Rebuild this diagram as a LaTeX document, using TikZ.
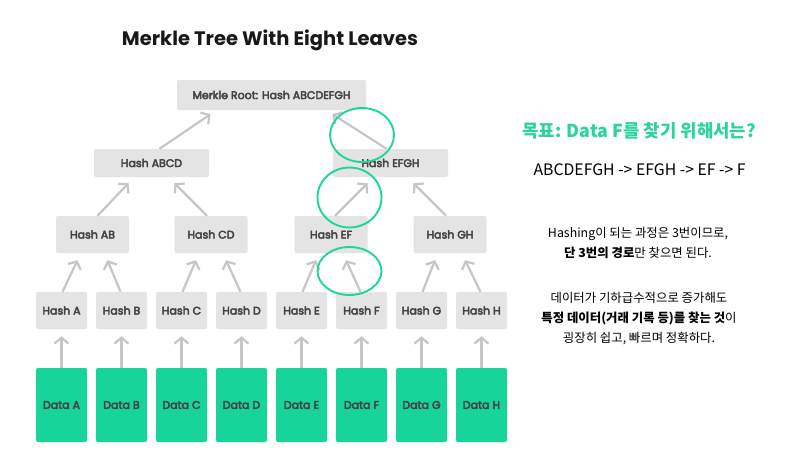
\documentclass[tikz,border=0pt]{standalone}
\usepackage{fontspec}
\setmainfont{Poppins}
\newfontfamily\labelfont{Poppins}[FakeBold=4]
\newfontfamily\krfont{Noto Sans CJK KR}
\usetikzlibrary{arrows.meta}
\definecolor{boxgray}{HTML}{E4E4E4}
\definecolor{linegray}{HTML}{C6C6C6}
\definecolor{labelgray}{HTML}{444444}
\definecolor{datagreen}{HTML}{17D59A}
\definecolor{ringgreen}{HTML}{1ED69C}
\definecolor{headgreen}{HTML}{2BD49C}
\tikzset{
  hbox/.style={fill=boxgray, rounded corners=2pt, text=labelgray, inner sep=0pt,
     font=\labelfont\fontsize{11}{13}\selectfont},
  dbox/.style={hbox, fill=datagreen, text=labelgray},
  arr/.style={draw=linegray, line width=2.2pt, -{Straight Barb[length=6pt,width=14pt]}},
  ring/.style={draw=ringgreen, line width=1.9pt},
  krtext/.style={font=\krfont\fontsize{12.4}{20}\selectfont, align=center, text=black}
}
\begin{document}
\begin{tikzpicture}[x=1pt,y=-1pt]
\useasboundingbox (0,0) rectangle (800,464);
\fill[white] (0,0) rectangle (800,464);
\node[font=\fontsize{19.5}{22}\selectfont\bfseries, text=black!90] (title) at (270,40) {Merkle Tree With Eight Leaves};
% root and levels
\node[hbox, minimum width=189pt, minimum height=30pt] (root) at (271.5,95) {Merkle Root: Hash ABCDEFGH};
\node[hbox, minimum width=115pt, minimum height=28pt] (abcd) at (151.5,163) {Hash ABCD};
\node[hbox, minimum width=115pt, minimum height=28pt] (efgh) at (390.5,163) {Hash EFGH};
\foreach \n/\t/\x in {ab/AB/92.5, cd/CD/211, ef/EF/331, gh/GH/450}{
  \node[hbox, minimum width=73pt, minimum height=37pt] (\n) at (\x,234.5) {Hash \t};
}
\foreach \l [count=\i from 0] in {A,B,C,D,E,F,G,H}{
  \node[hbox, minimum width=51pt, minimum height=37pt] (h\l) at (61.5+60*\i,310.5) {Hash \l};
  \node[dbox, minimum width=51pt, minimum height=74pt] (d\l) at (61.5+60*\i,405) {Data \l};
  \draw[arr] (d\l.north) -- ([yshift=-7pt]h\l.south);
}
% leaf -> level 2
\foreach \a/\b/\p in {A/B/ab, C/D/cd, E/F/ef, G/H/gh}{
  \draw[arr] ([xshift=1pt]h\a.north) -- ([shift={(-15,7)}]\p.south);
  \draw[arr] ([xshift=-1pt]h\b.north) -- ([shift={(15,7)}]\p.south);
}
% level 2 -> level 1
\draw[arr] ([xshift=5pt]ab.north) -- ([shift={(-23,6)}]abcd.south);
\draw[arr] ([xshift=-4pt]cd.north) -- ([shift={(23,6)}]abcd.south);
\draw[arr] ([xshift=4pt]ef.north) -- ([shift={(-23,6)}]efgh.south);
\draw[arr] ([xshift=-4pt]gh.north) -- ([shift={(23,6)}]efgh.south);
% level 1 -> root
\draw[arr] ([xshift=8pt]abcd.north) -- ([shift={(-61,4)}]root.south);
\draw[arr] ([xshift=-4pt]efgh.north) -- ([shift={(61,4)}]root.south);
% rings
\draw[ring] (362,135) ellipse [x radius=32pt, y radius=27pt];
\draw[ring] (349.5,197.5) ellipse [x radius=32pt, y radius=30pt];
\draw[ring] (349.5,271) ellipse [x radius=32pt, y radius=24pt];
% right texts
\node[font=\krfont\fontsize{17.8}{20}\selectfont\bfseries, text=headgreen, anchor=west] (goal) at (519,131) {목표: Data F를 찾기 위해서는?};
\node[font=\krfont\fontsize{15.8}{18}\selectfont, anchor=west] (path) at (530,170) {ABCDEFGH -> EFGH -> EF -> F};
\node[krtext] (t1) at (638,243) {Hashing이 되는 과정은 3번이므로,\\\textbf{단 3번의 경로}만 찾으면 된다.};
\node[krtext] (t2) at (639,319) {데이터가 기하급수적으로 증가해도\\\textbf{특정 데이터(거래 기록 등)를 찾는 것}이\\굉장히 쉽고, 빠르며 정확하다.};
\end{tikzpicture}
\end{document}
